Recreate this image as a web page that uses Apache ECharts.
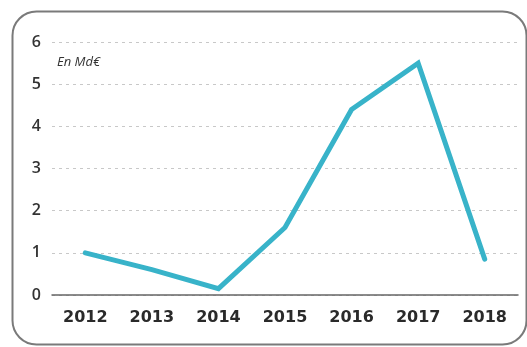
<!DOCTYPE html>
<html>
<head>
<meta charset="utf-8">
<script src="https://cdn.jsdelivr.net/npm/echarts@6/dist/echarts.min.js"></script>
<style>
  html, body { margin: 0; padding: 0; background: #ffffff; }
  #chart { width: 527px; height: 347px; }
</style>
</head>
<body>
<div id="chart"></div>
<script>
// Annual amounts, in billions of euros
const years = ['2012', '2013', '2014', '2015', '2016', '2017', '2018'];
const amounts = [1.0, 0.6, 0.15, 1.6, 4.4, 5.5, 0.85];
const yTicks = [0, 1, 2, 3, 4, 5, 6];
const unitLabel = 'En Md€';

const chart = echarts.init(document.getElementById('chart'), null, { renderer: 'canvas' });

chart.setOption({
  animation: false,
  backgroundColor: '#ffffff',
  textStyle: { fontFamily: '"Open Sans", "Noto Sans", sans-serif' },
  graphic: [
    {
      type: 'rect',
      left: 10, top: 9,
      shape: { width: 514, height: 333, r: 24 },
      style: { fill: 'none', stroke: '#7a7a7a', lineWidth: 2 },
      z: 0
    },
    {
      type: 'text',
      left: 57, top: 56,
      style: {
        text: unitLabel,
        fill: '#333333',
        font: 'italic 13px "Open Sans", "Noto Sans", sans-serif'
      }
    }
  ],
  grid: { left: 52, right: 9, top: 42, bottom: 52, containLabel: false },
  xAxis: {
    type: 'category',
    data: years,
    boundaryGap: true,
    axisLine: { show: true, lineStyle: { color: '#666666', width: 1.5 } },
    axisTick: { show: false },
    axisLabel: {
      color: '#2a2a2a', fontSize: 16, fontWeight: 'bold',
      fontFamily: '"DejaVu Sans", sans-serif', margin: 15
    },
    splitLine: { show: false }
  },
  yAxis: {
    type: 'value',
    min: yTicks[0],
    max: yTicks[yTicks.length - 1],
    interval: 1,
    axisLine: { show: false },
    axisTick: { show: false },
    axisLabel: { color: '#333333', fontSize: 16, fontWeight: 600, margin: 11 },
    splitLine: { show: true, lineStyle: { color: '#c8c8c8', type: [3, 4], width: 1.2 } }
  },
  series: [{
    type: 'line',
    data: amounts,
    symbol: 'none',
    lineStyle: { color: '#38b3c9', width: 5, cap: 'round', join: 'miter' },
    z: 3
  }]
});
</script>
</body>
</html>
